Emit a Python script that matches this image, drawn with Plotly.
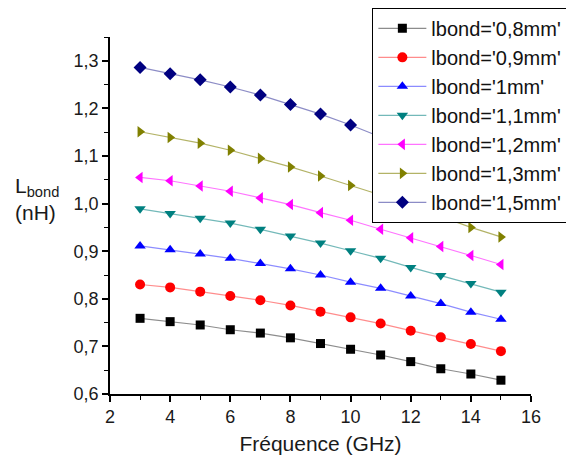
import plotly.graph_objects as go

freq = [3, 4, 5, 6, 7, 8, 9, 10, 11, 12, 13, 14, 15]

l_08 = [0.759, 0.752, 0.745, 0.735, 0.728, 0.718, 0.706, 0.694, 0.682, 0.668, 0.653, 0.642, 0.629]
l_09 = [0.830, 0.824, 0.815, 0.806, 0.797, 0.786, 0.773, 0.761, 0.748, 0.733, 0.719, 0.705, 0.690]
l_10 = [0.911, 0.903, 0.894, 0.885, 0.874, 0.863, 0.850, 0.835, 0.822, 0.806, 0.790, 0.772, 0.757]
l_11 = [0.989, 0.979, 0.969, 0.959, 0.946, 0.932, 0.917, 0.901, 0.885, 0.866, 0.849, 0.832, 0.814]
l_12 = [1.055, 1.048, 1.037, 1.026, 1.012, 0.998, 0.981, 0.965, 0.946, 0.928, 0.910, 0.891, 0.872]
l_13 = [1.151, 1.139, 1.127, 1.112, 1.095, 1.077, 1.058, 1.038, 1.018, 0.996, 0.973, 0.950, 0.930]
l_15 = [1.286, 1.273, 1.260, 1.245, 1.228, 1.208, 1.188, 1.165, 1.140, 1.113, 1.085, 1.056, 1.027]

names = ["lbond='0,8mm'", "lbond='0,9mm'", "lbond='1mm'", "lbond='1,1mm'",
         "lbond='1,2mm'", "lbond='1,3mm'", "lbond='1,5mm'"]
series = [l_08, l_09, l_10, l_11, l_12, l_13, l_15]
colors = ["#000000", "#FF0000", "#0000FF", "#008080", "#FF00FF", "#808000", "#000080"]
line_colors = ["rgba(0,0,0,0.45)", "rgba(255,0,0,0.45)", "rgba(0,0,255,0.45)",
               "rgba(0,128,128,0.55)", "rgba(255,0,255,0.55)", "rgba(128,128,0,0.6)",
               "rgba(0,0,128,0.45)"]
symbols = ["square", "circle", "triangle-up", "triangle-down", "triangle-left",
           "triangle-right", "diamond"]
sizes = [9, 10, 10, 10, 10, 10, 10]

x_ticks = [2, 4, 6, 8, 10, 12, 14, 16]
y_ticks = [0.6, 0.7, 0.8, 0.9, 1.0, 1.1, 1.2, 1.3]

FONT = "Liberation Sans, Arial, sans-serif"

fig = go.Figure()
for name, ys, c, lc, s, sz in zip(names, series, colors, line_colors, symbols, sizes):
    fig.add_trace(go.Scatter(
        x=freq, y=ys, name=name, mode="lines+markers",
        line=dict(color=lc, width=1.2),
        marker=dict(color=c, symbol=s, size=sz, line=dict(width=0)),
    ))

# the page body has an 8px default margin, so the figure is sized to fit the window
fig.update_layout(
    width=566, height=451,
    margin=dict(l=102, r=43, t=29, b=65, autoexpand=False),
    paper_bgcolor="white", plot_bgcolor="white",
    separators=", ",
    font=dict(family=FONT, color="#1a1a1a", size=18),
    showlegend=True,
    legend=dict(
        x=0.622, y=1.083, xanchor="left", yanchor="top",
        bgcolor="white", bordercolor="#000000", borderwidth=1.5,
        font=dict(family=FONT, size=20, color="#111111"),
        itemwidth=48, tracegroupgap=0,
    ),
    xaxis=dict(
        range=[2, 16], tickvals=x_ticks, showgrid=False, zeroline=False,
        showline=True, linecolor="black", linewidth=1.5,
        ticks="outside", ticklen=6, tickwidth=1.5, tickcolor="black",
        tickfont=dict(size=18),
        minor=dict(ticks="outside", ticklen=4, dtick=1, tickcolor="black", tickwidth=1.2),
        title=dict(text="Fréquence (GHz)", font=dict(size=21), standoff=10),
    ),
    yaxis=dict(
        range=[0.6, 1.35], tickvals=y_ticks, tickformat=".1f", showgrid=False, zeroline=False,
        showline=True, linecolor="black", linewidth=1.5,
        ticks="outside", ticklen=6, tickwidth=1.5, tickcolor="black",
        tickfont=dict(size=18),
        minor=dict(ticks="outside", ticklen=4, dtick=0.05, tickcolor="black", tickwidth=1.2),
    ),
    annotations=[dict(
        text="L<sub>bond</sub><br>(nH)", xref="paper", yref="paper",
        x=-0.23, y=0.547, xanchor="left", yanchor="middle", showarrow=False,
        align="left", font=dict(family=FONT, size=21, color="#1a1a1a"),
    )],
)

fig.write_html("out.html")
